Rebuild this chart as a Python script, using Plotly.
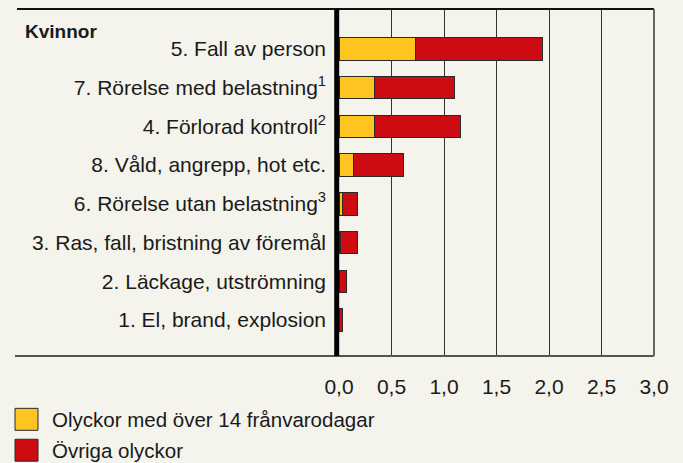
import plotly.graph_objects as go

categories = [
    "5. Fall av person",
    "7. Rörelse med belastning<sup>1</sup>",
    "4. Förlorad kontroll<sup>2</sup>",
    "8. Våld, angrepp, hot etc.",
    "6. Rörelse utan belastning<sup>3</sup>",
    "3. Ras, fall, bristning av föremål",
    "2. Läckage, utströmning",
    "1. El, brand, explosion",
]
over14 = [0.73, 0.34, 0.335, 0.135, 0.03, 0.017, 0.005, 0.004]
ovriga = [1.205, 0.757, 0.823, 0.48, 0.143, 0.156, 0.066, 0.026]
series_names = ["Olyckor med över 14 frånvarodagar", "Övriga olyckor"]
x_ticks = [0, 0.5, 1.0, 1.5, 2.0, 2.5, 3.0]
title_text = "Kvinnor"

BG = "#f4f3ec"
YELLOW = "#fec520"
RED = "#cc0b12"
FONT = "Liberation Sans, Arial, sans-serif"
TXT = "#1a1a1a"

# page body has an 8px margin; work in page pixels and convert
OFF = 8
W, H = 683 - OFF, 463 - OFF
L = 339 - OFF
R = 683 - 654
T = 8.5 - OFF
B = 463 - 356.5
pw = W - L - R
ph = H - T - B

def px_x(p):
    return (p - OFF - L) / pw

def px_y(p):
    return (H - B - (p - OFF)) / ph

fig = go.Figure()
fig.add_trace(go.Bar(y=categories, x=over14, orientation="h", name=series_names[0],
                     marker=dict(color=YELLOW, line=dict(color="#2a2a2a", width=1)),
                     width=0.58, showlegend=False))
fig.add_trace(go.Bar(y=categories, x=ovriga, orientation="h", name=series_names[1],
                     marker=dict(color=RED, line=dict(color="#2a2a2a", width=1)),
                     width=0.58, showlegend=False))

shapes = [
    dict(type="line", xref="paper", yref="paper", x0=px_x(17), x1=1, y0=1, y1=1,
         line=dict(color="#111111", width=2)),
    dict(type="line", xref="paper", yref="paper", x0=px_x(15), x1=1, y0=0, y1=0,
         line=dict(color="#555555", width=2)),
    dict(type="line", xref="paper", yref="paper", x0=1, x1=1, y0=0, y1=1,
         line=dict(color="#666666", width=2)),
    dict(type="line", xref="paper", yref="paper", x0=px_x(336.7), x1=px_x(336.7), y0=0, y1=1,
         line=dict(color="#000000", width=5), layer="above"),
    dict(type="rect", xref="paper", yref="paper", x0=px_x(15), x1=px_x(38), y0=px_y(431), y1=px_y(409),
         fillcolor=YELLOW, line=dict(color="#2a2a2a", width=1)),
    dict(type="rect", xref="paper", yref="paper", x0=px_x(15), x1=px_x(38), y0=px_y(462), y1=px_y(440),
         fillcolor=RED, line=dict(color="#2a2a2a", width=1)),
]

annotations = [
    dict(text="<b>" + title_text + "</b>", xref="paper", yref="paper", x=px_x(23), y=px_y(31),
         xanchor="left", yanchor="middle", showarrow=False, font=dict(size=19, color=TXT, family=FONT)),
    dict(text=series_names[0], xref="paper", yref="paper", x=px_x(50), y=px_y(420),
         xanchor="left", yanchor="middle", showarrow=False, font=dict(size=20.5, color=TXT, family=FONT)),
    dict(text=series_names[1], xref="paper", yref="paper", x=px_x(50), y=px_y(451),
         xanchor="left", yanchor="middle", showarrow=False, font=dict(size=20.5, color=TXT, family=FONT)),
]

fig.update_layout(
    width=W, height=H,
    margin=dict(l=L, r=R, t=T, b=B, pad=0),
    barmode="stack",
    paper_bgcolor=BG, plot_bgcolor=BG,
    separators=", ",
    font=dict(family=FONT, size=20, color=TXT),
    shapes=shapes,
    annotations=annotations,
    xaxis=dict(range=[0, 3], tickvals=x_ticks, tickformat=".1f", showgrid=True,
               gridcolor="#333333", gridwidth=1.3, zeroline=False, showline=False,
               ticks="", ticklabelstandoff=16, tickfont=dict(size=21, color=TXT, family=FONT),
               fixedrange=True),
    yaxis=dict(categoryorder="array", categoryarray=categories,
               range=[7.93, -1.03], showgrid=False, zeroline=False, showline=False,
               ticks="", ticklabelstandoff=12, tickfont=dict(size=21, color=TXT, family=FONT),
               fixedrange=True),
)

fig.write_html("out.html", config={"displayModeBar": False},
               post_script="document.body.style.background='" + BG + "';")
